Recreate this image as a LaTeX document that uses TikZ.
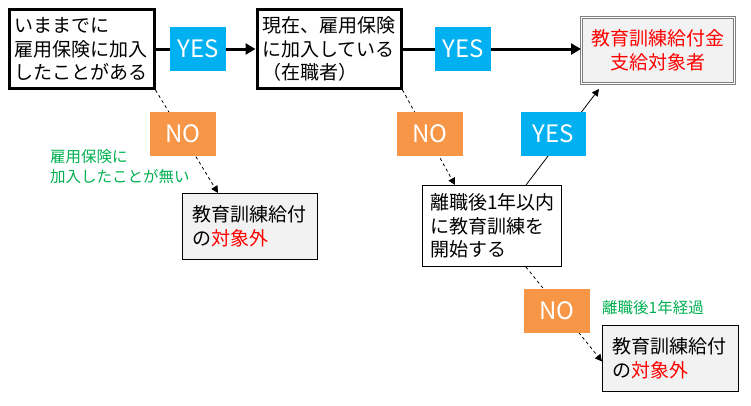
\documentclass[tikz,border=0pt]{standalone}
\usepackage{fontspec}
\setmainfont{Noto Sans CJK JP}
\usetikzlibrary{arrows.meta}
\definecolor{yesblue}{HTML}{00B0F0}
\definecolor{noorange}{HTML}{F79646}
\definecolor{notegreen}{HTML}{00B050}
\definecolor{boxgray}{HTML}{F2F2F2}
\definecolor{bordergray}{HTML}{7F7F7F}
\definecolor{alertred}{HTML}{FF0000}
\tikzset{
  mainfont/.style={font=\fontsize{19}{23.5}\selectfont},
  thickbox/.style={draw, line width=3pt, fill=white, inner ysep=0pt, inner xsep=5.5pt,
    minimum height=79pt, align=left, mainfont},
  thinbox/.style={draw, line width=1pt, inner ysep=0pt, inner xsep=9.5pt,
    align=left, mainfont},
  endbox/.style={draw=bordergray, line width=1pt, double=white, double distance=1.8pt,
    fill=boxgray, minimum width=153pt, minimum height=66pt, inner sep=0pt,
    align=center, text=alertred, mainfont},
  yeslabel/.style={fill=yesblue, text=white, minimum width=56pt, minimum height=44pt,
    inner sep=0pt, font=\fontsize{24}{24}\selectfont},
  nolabel/.style={fill=noorange, text=white, minimum width=66pt, minimum height=44pt,
    inner sep=0pt, font=\fontsize{24}{24}\selectfont},
  note/.style={text=notegreen, align=left, inner sep=0pt, anchor=west,
    font=\fontsize{15.5}{20}\selectfont},
  mainarrow/.style={line width=3pt, -{Triangle[length=10pt,width=11pt]}},
  dasharrow/.style={line width=0.8pt, dash pattern=on 3pt off 3pt,
    -{Triangle[length=7pt,width=7pt]}},
  solidarrow/.style={line width=0.8pt, -{Triangle[length=7pt,width=7pt]}},
}
\begin{document}
\begin{tikzpicture}[x=1pt,y=-1pt]
\useasboundingbox (0,0) rectangle (751,405);
% boxes
\node[thickbox, text width=134pt] (q1) at (81.5,49) {いままでに\\雇用保険に加入\\したことがある};
\node[thickbox, text width=133pt] (q2) at (329,49) {現在、雇用保険\\に加入している\\（在職者）};
\node[endbox] (ok) at (658,50.5) {教育訓練給付金\\支給対象者};
\node[thinbox, fill=boxgray, text width=116pt, minimum height=66pt] (ng1) at (250,226.5)
  {教育訓練給付\\の\textcolor{alertred}{対象外}};
\node[thinbox, fill=white, inner xsep=7.5pt, text width=124pt, minimum height=81pt] (q3) at (492,226)
  {離職後1年以内\\に教育訓練を\\開始する};
\node[thinbox, fill=boxgray, text width=117pt, minimum height=66pt] (ng2) at (670.5,358.5)
  {教育訓練給付\\の\textcolor{alertred}{対象外}};
% connectors
\draw[mainarrow] (q1.east) -- (q2.west);
\draw[mainarrow] (q2.east) -- (q2.east -| ok.west);
\draw[dasharrow] (q1.south east) -- ([xshift=36pt]ng1.north west);
\draw[dasharrow] (q2.south east) -- ([xshift=33pt]q3.north west);
\draw[solidarrow] ([xshift=104pt]q3.north west) -- ([xshift=18pt,yshift=-5pt]ok.south west);
\draw[dasharrow] ([xshift=104pt]q3.south west) -- ([yshift=-3pt]ng2.west);
% labels
\node[yeslabel] (y1) at (198,49) {YES};
\node[yeslabel] (y2) at (463,49) {YES};
\node[yeslabel, minimum width=65pt] (y3) at (553.5,134) {YES};
\node[nolabel] (n1) at (183,134) {NO};
\node[nolabel] (n2) at (430,134) {NO};
\node[nolabel] (n3) at (557,311) {NO};
\node[note] (t1) at (50,167) {雇用保険に\\加入したことが無い};
\node[note] (t2) at (602,308) {離職後1年経過};
\end{tikzpicture}
\end{document}
